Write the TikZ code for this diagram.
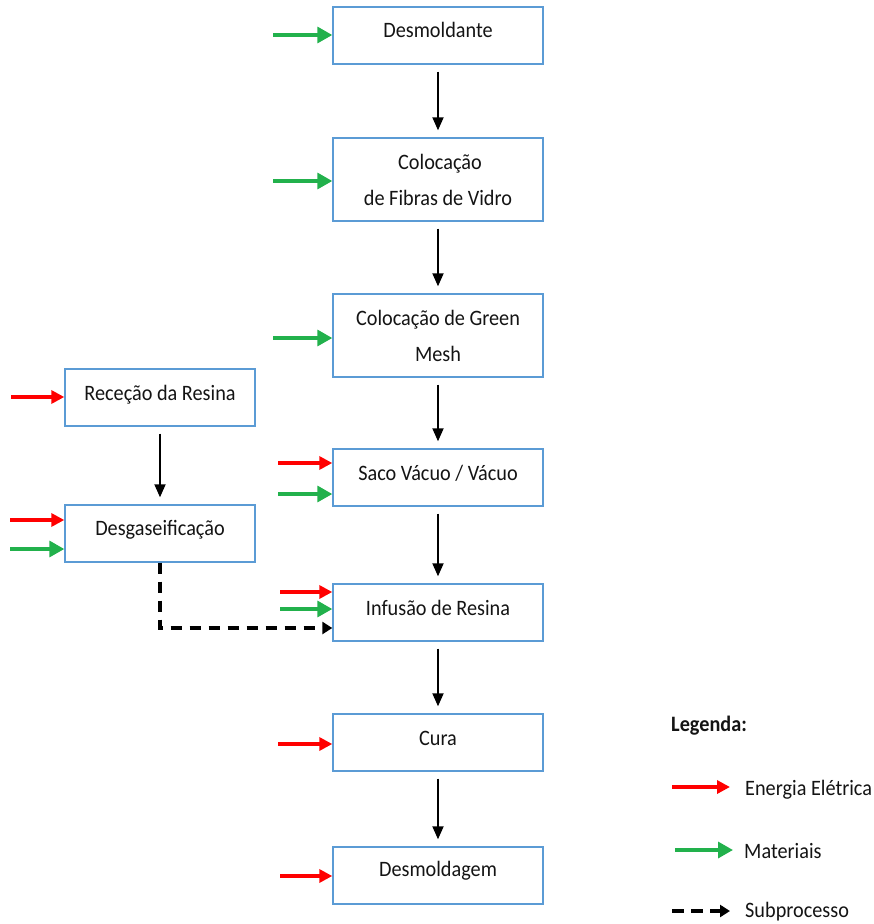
\documentclass[tikz,border=0pt]{standalone}
\usepackage{fontspec}
\setmainfont{Carlito}[FakeStretch=0.92]
\usetikzlibrary{arrows.meta}
\definecolor{boxblue}{HTML}{5B9BD5}
\definecolor{elec}{HTML}{FF0000}
\definecolor{matl}{HTML}{22B14C}
\tikzset{
  stage/.style={draw=boxblue, line width=1.4pt, inner sep=0pt},
  lbl/.style={font=\fontsize{22}{26}\selectfont, anchor=base, inner sep=0pt, text=black!92},
  flow/.style={-{Triangle[length=13pt,width=11pt]}, line width=1.9pt, shorten <=7pt, shorten >=7pt},
  power/.style={-{Triangle[length=13pt,width=13pt]}, draw=elec, line width=3.3pt},
  matter/.style={-{Triangle[length=15pt,width=16pt]}, draw=matl, line width=3.3pt},
  subproc/.style={-{Triangle[length=10pt,width=12pt]}, line width=3.3pt, dash pattern=on 11pt off 8pt},
}
\begin{document}
\begin{tikzpicture}[x=1pt,y=-1pt]
\useasboundingbox (0,0) rectangle (874,924);

% main process column
\node[stage, minimum width=210pt, minimum height=57pt] (des)  at (438,35.5)  {};
\node[stage, minimum width=210pt, minimum height=83pt] (fib)  at (438,179.5) {};
\node[stage, minimum width=210pt, minimum height=83pt] (grn)  at (438,335.5) {};
\node[stage, minimum width=210pt, minimum height=57pt] (saco) at (438,477.5) {};
\node[stage, minimum width=210pt, minimum height=57pt] (inf)  at (438,612.5) {};
\node[stage, minimum width=210pt, minimum height=57pt] (cura) at (438,742.5) {};
\node[stage, minimum width=210pt, minimum height=57pt] (dmg)  at (438,875.5) {};

% resin preparation branch
\node[stage, minimum width=190pt, minimum height=57pt] (rec) at (160,397.5) {};
\node[stage, minimum width=190pt, minimum height=57pt] (dgs) at (160,533.5) {};

% box labels (baselines)
\node[lbl] (tdes)  at (438,37)  {Desmoldante};
\node[lbl] (tfib1) at (440,169.5) {Colocação};
\node[lbl] (tfib2) at (438,205)   {de Fibras de Vidro};
\node[lbl] (tgrn1) at (438,325.5) {Colocação de Green};
\node[lbl] (tgrn2) at (438,361)   {Mesh};
\node[lbl] (tsaco) at (438,480.5) {Saco Vácuo / Vácuo};
\node[lbl] (tinf)  at (438,615.5) {Infusão de Resina};
\node[lbl] (tcura) at (438,745)   {Cura};
\node[lbl] (tdmg)  at (438,876)   {Desmoldagem};
\node[lbl] (trec)  at (160,400)   {Receção da Resina};
\node[lbl] (tdgs)  at (160,535)   {Desgaseificação};

% sequence arrows
\draw[flow] (des.south)  -- (fib.north);
\draw[flow] (fib.south)  -- (grn.north);
\draw[flow] (grn.south)  -- (saco.north);
\draw[flow] (saco.south) -- (inf.north);
\draw[flow] (inf.south)  -- (cura.north);
\draw[flow] (cura.south) -- (dmg.north);
\draw[flow] (rec.south)  -- (dgs.north);

% subprocess link
\coordinate (bend) at (160,628);
\draw[subproc] (dgs.south) -- (bend) -- (bend -| inf.west);

% inputs: electrical energy and materials
\coordinate (i1) at (273,35);   \draw[matter] (i1) -- (i1 -| des.west);
\coordinate (i2) at (273,181);  \draw[matter] (i2) -- (i2 -| fib.west);
\coordinate (i3) at (273,338);  \draw[matter] (i3) -- (i3 -| grn.west);
\coordinate (i4) at (278,463);  \draw[power]  (i4) -- (i4 -| saco.west);
\coordinate (i5) at (278,494);  \draw[matter] (i5) -- (i5 -| saco.west);
\coordinate (i6) at (280,592);  \draw[power]  (i6) -- (i6 -| inf.west);
\coordinate (i7) at (280,609);  \draw[matter] (i7) -- (i7 -| inf.west);
\coordinate (i8) at (278,744);  \draw[power]  (i8) -- (i8 -| cura.west);
\coordinate (i9) at (280,876);  \draw[power]  (i9) -- (i9 -| dmg.west);
\coordinate (j1) at (11,397);   \draw[power]  (j1) -- (j1 -| rec.west);
\coordinate (j2) at (10,520);   \draw[power]  (j2) -- (j2 -| dgs.west);
\coordinate (j3) at (10,549);   \draw[matter] (j3) -- (j3 -| dgs.west);

% legend
\node[lbl, anchor=base west, font=\fontsize{22}{26}\selectfont\bfseries] (leg) at (671,731.5) {Legenda:};
\coordinate (le1) at (672,787); \coordinate (le2) at (730,787);
\draw[power] (le1) -- (le2);
\node[lbl, anchor=base west] (tle) at (745,795) {Energia Elétrica};
\coordinate (lm1) at (675,850); \coordinate (lm2) at (733,850);
\draw[matter] (lm1) -- (lm2);
\node[lbl, anchor=base west] (tlm) at (744,858) {Materiais};
\coordinate (ls1) at (672,911); \coordinate (ls2) at (730,911);
\draw[subproc, dash pattern=on 12pt off 7pt] (ls1) -- (ls2);
\node[lbl, anchor=base west] (tls) at (745,917) {Subprocesso};
\end{tikzpicture}
\end{document}
